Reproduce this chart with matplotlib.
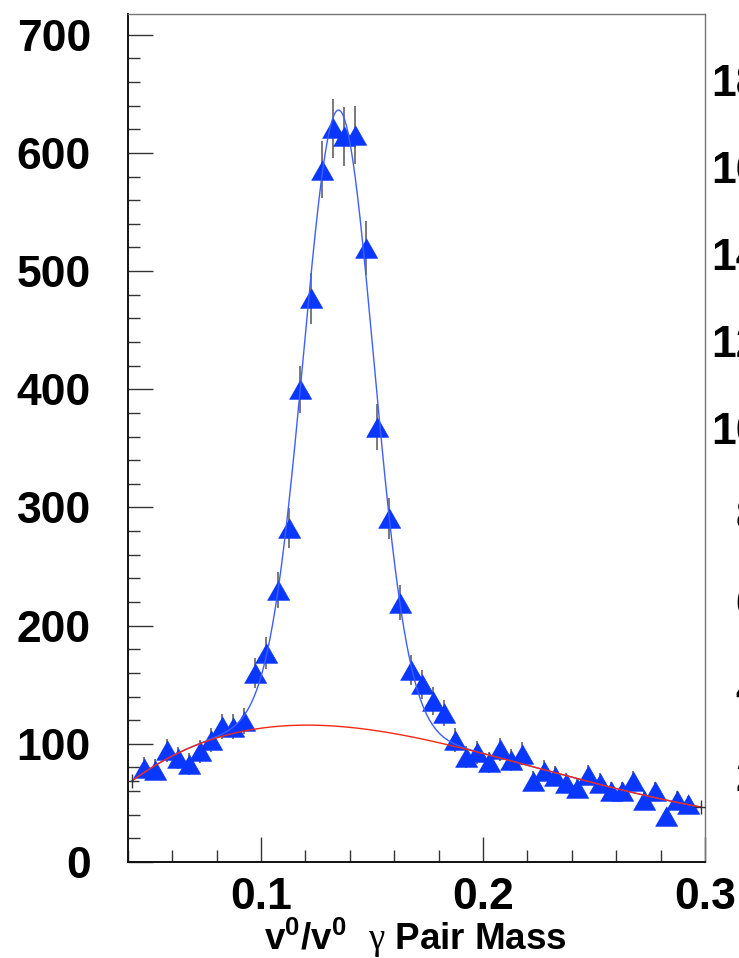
import numpy as np
import matplotlib
matplotlib.use("Agg")
import matplotlib.pyplot as plt
from matplotlib.ticker import MultipleLocator, FuncFormatter

plt.rcParams['font.family'] = ['Liberation Sans', 'DejaVu Sans']
plt.rcParams['mathtext.fontset'] = 'custom'
plt.rcParams['mathtext.rm'] = 'Liberation Sans:bold'
plt.rcParams['mathtext.it'] = 'Liberation Sans:bold'
plt.rcParams['mathtext.bf'] = 'Liberation Sans:bold'
plt.rcParams['mathtext.sf'] = 'Liberation Serif'

# ---- data: gamma-pair invariant mass histogram (bin centres, counts, errors)
mass = [0.0475, 0.0525, 0.0575, 0.0625, 0.0675, 0.0725, 0.0775, 0.0825, 0.0875, 0.0925,
        0.0975, 0.1025, 0.1075, 0.1125, 0.1175, 0.1225, 0.1275, 0.1325, 0.1375, 0.1425,
        0.1475, 0.1525, 0.1575, 0.1625, 0.1675, 0.1725, 0.1775, 0.1825, 0.1875, 0.1925,
        0.1975, 0.2025, 0.2075, 0.2125, 0.2175, 0.2225, 0.2275, 0.2325, 0.2375, 0.2425,
        0.2475, 0.2525, 0.2575, 0.2625, 0.2675, 0.2725, 0.2775, 0.2825, 0.2875, 0.2925]
counts = [79.7, 78.1, 94.5, 87.7, 82.9, 93.7, 103.5, 114.8, 114.5, 119.5,
          159.7, 176.8, 230.4, 282.3, 400.0, 476.8, 585.8, 620.8, 614.0, 615.0,
          519.7, 368.1, 290.8, 219.4, 162.5, 150.2, 136.4, 126.1, 103.2, 88.7,
          92.9, 84.2, 95.5, 86.0, 91.6, 68.4, 77.3, 72.5, 67.1, 63.0,
          73.6, 67.1, 60.3, 60.3, 68.5, 52.5, 60.3, 38.9, 52.5, 49.1]
errors = [8.9, 8.8, 9.7, 9.4, 9.1, 9.7, 10.2, 10.7, 10.7, 10.9,
          12.6, 13.3, 15.2, 16.8, 20.0, 21.8, 24.2, 24.9, 24.8, 24.8,
          22.8, 19.2, 17.1, 14.8, 12.7, 12.3, 11.7, 11.2, 10.2, 9.4,
          9.6, 9.2, 9.8, 9.3, 9.6, 8.3, 8.8, 8.5, 8.2, 7.9,
          8.6, 8.2, 7.8, 7.8, 8.3, 7.2, 7.8, 6.2, 7.2, 7.0]

# ---- fit: gaussian peak on a polynomial background (background)
fit_range = [0.042, 0.298]
peak_amp = 521.5
peak_mean = 0.1350
peak_sigma = 0.0157
bg_x = [0.0421, 0.0514, 0.0589, 0.0664, 0.0814, 0.0964, 0.1115, 0.1265, 0.1415,
        0.1505, 0.1655, 0.1805, 0.1956, 0.2106, 0.2256, 0.2512, 0.2812, 0.2969]
bg_y = [67.9, 82.1, 89.2, 95.4, 103.9, 111.8, 115.4, 116.0, 114.0,
        112.3, 107.5, 100.3, 93.3, 86.4, 77.9, 67.1, 53.9, 46.2]

# neighbouring panel's axis labels (cut off at right edge)
neighbor_ticks = [200, 400, 600, 800, 1000, 1200, 1400, 1600, 1800]

W, H = 739, 958
fig = plt.figure(figsize=(W / 100, H / 100), dpi=100)
L, R, T, B = 127.7, 705.0, 14.0, 862.0
ax = fig.add_axes([L / W, 1 - B / H, (R - L) / W, (B - T) / H])
ax.set_xlim(0.04, 0.30)
ax.set_ylim(0, 717.5)

bg_coef = np.polyfit(bg_x, bg_y, 4)
xf = np.linspace(fit_range[0], fit_range[1], 500)
bg = np.polyval(bg_coef, xf)
total = bg + peak_amp * np.exp(-0.5 * ((xf - peak_mean) / peak_sigma) ** 2)

tri = [(-1, -0.88), (1, -0.88), (0, 0.88)]
ax.errorbar(mass, counts, yerr=errors, fmt='none', ecolor='#555555',
            elinewidth=1.1, capsize=0, zorder=2)
ax.plot(mass, counts, ls='none', marker=tri, ms=16, color='#0a37ff',
        mec='#0a37ff', mew=0.5, zorder=3)
ax.plot(xf, total, color='#3d5fff', lw=1.0, zorder=4)
ax.plot(xf, bg, color='#f42812', lw=1.0, zorder=5)
ax.plot(fit_range, np.polyval(bg_coef, fit_range), ls='none', marker='+',
        ms=10, mew=1.0, color='#333333', zorder=6)

ax.xaxis.set_major_locator(MultipleLocator(0.1))
ax.xaxis.set_minor_locator(MultipleLocator(0.02))
ax.yaxis.set_major_locator(MultipleLocator(100))
ax.yaxis.set_minor_locator(MultipleLocator(20))
ax.xaxis.set_major_formatter(FuncFormatter(lambda v, p: f"{v:.1f}"))
ax.yaxis.set_major_formatter(FuncFormatter(lambda v, p: f"{int(round(v))}"))
ax.tick_params(which='both', direction='in', top=False, right=False,
               color='#333333', width=1.0)
ax.tick_params(which='major', length=18)
ax.tick_params(which='minor', length=8.6)
ax.tick_params(axis='y', which='major', labelsize=32, pad=26.5)
ax.tick_params(axis='x', which='major', labelsize=32, pad=11)
for lab in ax.get_xticklabels() + ax.get_yticklabels():
    lab.set_fontweight('bold')

for s in ['left', 'bottom']:
    ax.spines[s].set_color('#111111')
    ax.spines[s].set_linewidth(1.4)
for s in ['top', 'right']:
    ax.spines[s].set_color('#777777')
    ax.spines[s].set_linewidth(1.0)

fig.text(415 / W, 1 - 950 / H,
         r'$\mathbf{v^{0}/v^{0}}\ \ \mathsf{\gamma}$ Pair Mass',
         ha='center', va='baseline', fontsize=26.5, fontweight='bold')

# neighbouring panel (only the start of its labels is visible)
ax2 = fig.add_axes([846.8 / W, 1 - B / H, 0.3, (B - T) / H])
ax2.set_ylim(0, 1952)
ax2.set_yticks(neighbor_ticks)
ax2.set_yticklabels([str(v) for v in neighbor_ticks], fontsize=32, fontweight='bold')
ax2.tick_params(axis='y', length=0, pad=26.5)
ax2.xaxis.set_visible(False)
for s in ax2.spines.values():
    s.set_visible(False)
ax2.patch.set_visible(False)

fig.savefig('out.png', dpi=100)
